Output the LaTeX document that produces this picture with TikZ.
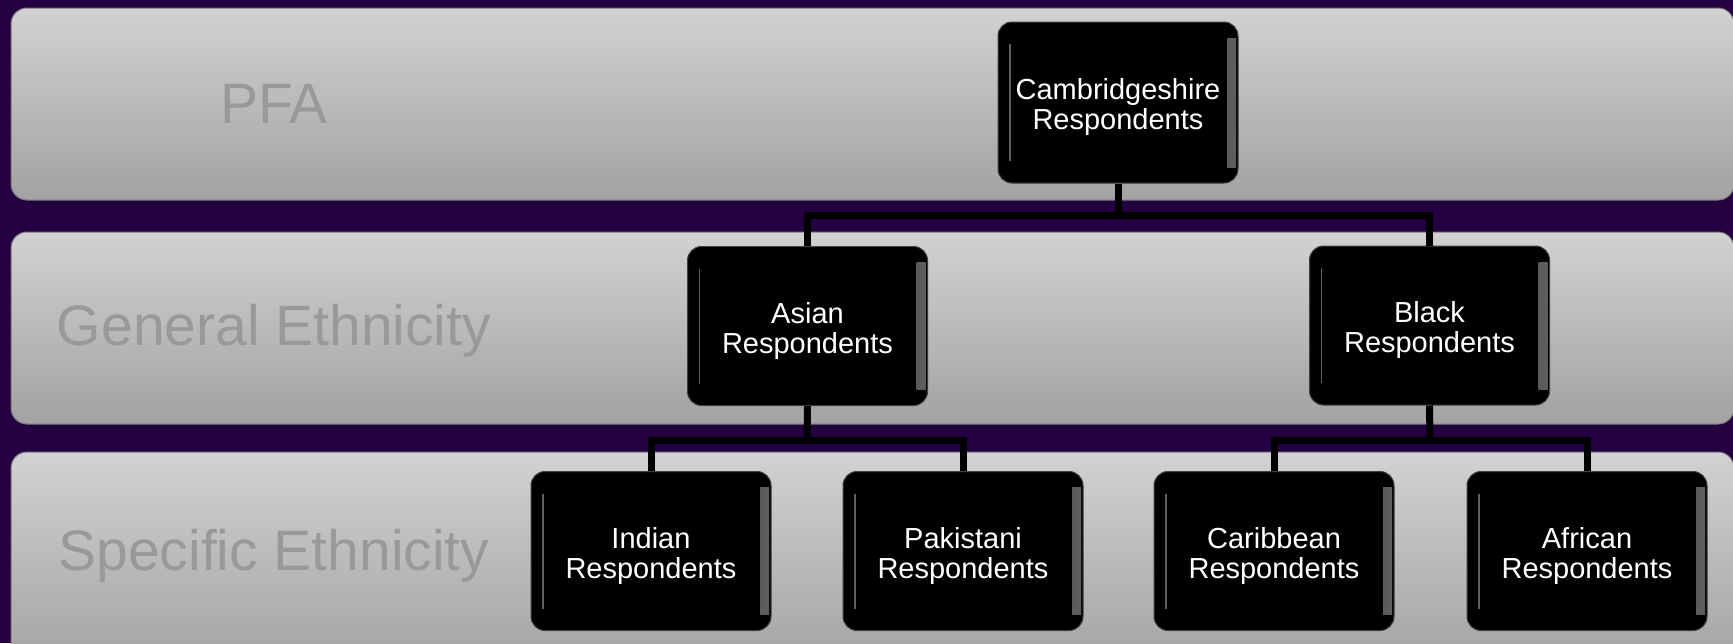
\documentclass[tikz,border=0pt]{standalone}
\usepackage{fontspec}
\setmainfont{Liberation Sans}
\usetikzlibrary{calc}
\definecolor{bgpurple}{RGB}{36,0,66}
\definecolor{bandtop}{RGB}{210,210,210}
\definecolor{bandbot}{RGB}{162,162,162}
\definecolor{bandedge}{RGB}{120,120,120}
\definecolor{labelgray}{RGB}{153,153,153}
\definecolor{glossgray}{RGB}{95,95,95}
\newcommand{\topstrut}{\rule{0pt}{31pt}}
\tikzset{
  band/.style={top color=bandtop, bottom color=bandbot, draw=bandedge, line width=1pt, rounded corners=16pt},
  bandlabel/.style={anchor=base, text=labelgray, font=\fontsize{57}{60}\selectfont, inner sep=0pt},
  orgbox/.style={rectangle, rounded corners=14pt, fill=black, draw=black!75, line width=1pt,
    minimum width=240pt, minimum height=159pt, text=white, align=center, inner sep=0pt,
    font=\fontsize{29}{30}\selectfont,
    path picture={
      \shade[sharp corners, left color=black, right color=glossgray]
        ([xshift=-11pt,yshift=-16pt]path picture bounding box.north east) rectangle
        ([xshift=-2pt,yshift=16pt]path picture bounding box.south east);
      \draw[sharp corners, glossgray, line width=1.2pt]
        ([xshift=12pt,yshift=-22pt]path picture bounding box.north west) --
        ([xshift=12pt,yshift=22pt]path picture bounding box.south west);
    }},
  conn/.style={draw=black, line width=7pt, line join=miter}
}
\begin{document}
\begin{tikzpicture}[x=1pt,y=-1pt]
\useasboundingbox (0,0) rectangle (1733,643);
\fill[bgpurple] (0,0) rectangle (1733,643);
% bands
\shade[band] (11,8) rectangle (1734,200);
\shade[band] (11,232) rectangle (1734,424);
\shade[band] (11,452) rectangle (1734,670);
% band labels
\node[bandlabel] (lpfa) at (274,123) {PFA};
\node[bandlabel] (lgen) at (274,345) {General Ethnicity};
\node[bandlabel] (lspe) at (274,570) {Specific Ethnicity};
% connector junctions
\coordinate (bus1) at (1118,215);
\coordinate (busA) at (807,440);
\coordinate (busB) at (1430,440);
% boxes
\node[orgbox, minimum height=161pt] (cam) at (1118,102.5) {\topstrut Cambridgeshire\\Respondents};
\node[orgbox] (asian) at (807.5,326) {\topstrut Asian\\Respondents};
\node[orgbox] (black) at (1429.5,325.5) {\topstrut Black\\Respondents};
\node[orgbox] (indian) at (651,551) {\topstrut Indian\\Respondents};
\node[orgbox] (pak) at (963,551) {\topstrut Pakistani\\Respondents};
\node[orgbox] (carib) at (1274,551) {\topstrut Caribbean\\Respondents};
\node[orgbox] (afr) at (1587,551) {\topstrut African\\Respondents};
% connectors
\draw[conn] (cam.south) -- (bus1);
\draw[conn] (asian.north) |- (bus1) -| (black.north);
\draw[conn] (asian.south) -- (busA);
\draw[conn] (indian.north) |- (busA) -| (pak.north);
\draw[conn] (black.south) -- (busB);
\draw[conn] (carib.north) |- (busB) -| (afr.north);
\end{tikzpicture}
\end{document}
